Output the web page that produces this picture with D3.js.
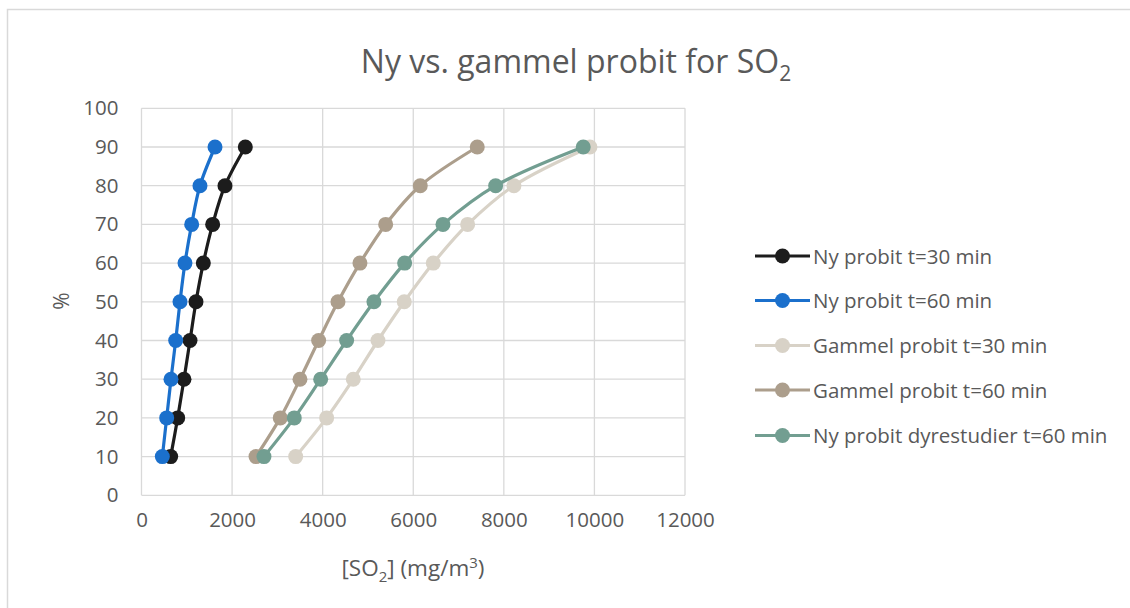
<!DOCTYPE html>
<html>
<head>
<meta charset="utf-8">
<script src="https://cdn.jsdelivr.net/npm/d3@7"></script>
<style>
  html, body { margin: 0; padding: 0; background: #fff; }
  svg { display: block; font-family: "Open Sans", "Noto Sans", sans-serif; }
</style>
</head>
<body>
<svg id="chart" width="1130" height="608"></svg>
<script>
const percent = [10, 20, 30, 40, 50, 60, 70, 80, 90];
const nyProbit30 = [644, 799, 938, 1071, 1203, 1365, 1571, 1843, 2292];
const nyProbit60 = [460, 556, 651, 755, 850, 960, 1108, 1291, 1623];
const gammelProbit30 = [3404, 4088, 4676, 5221, 5801, 6442, 7201, 8223, 9901];
const gammelProbit60 = [2528, 3064, 3499, 3911, 4338, 4823, 5391, 6155, 7413];
const nyProbitDyr60 = [2704, 3373, 3956, 4529, 5132, 5810, 6656, 7819, 9753];
const seriesNames = ["Ny probit t=30 min", "Ny probit t=60 min", "Gammel probit t=30 min", "Gammel probit t=60 min", "Ny probit dyrestudier t=60 min"];
const seriesColors = ["#1c1c1c", "#1b70cc", "#d8d2c7", "#ac9e8c", "#729e91"];
const xTicks = [0, 2000, 4000, 6000, 8000, 10000, 12000];
const yTicks = [0, 10, 20, 30, 40, 50, 60, 70, 80, 90, 100];

const seriesValues = [nyProbit30, nyProbit60, gammelProbit30, gammelProbit60, nyProbitDyr60];
const series = seriesNames.map((name, i) => ({
  name, color: seriesColors[i],
  points: seriesValues[i].map((v, j) => ({ x: v, y: percent[j] }))
}));

const svg = d3.select("#chart");
const textColor = "#595959";
const gridColor = "#d9d9d9";

// chart border
svg.append("rect").attr("x", 7.5).attr("y", 9.5).attr("width", 1200).attr("height", 700)
  .attr("fill", "none").attr("stroke", gridColor).attr("stroke-width", 1.5);

const x = d3.scaleLinear().domain([0, 12000]).range([141.5, 685]);
const y = d3.scaleLinear().domain([0, 100]).range([495.3, 108.3]);

// gridlines
const g = svg.append("g");
g.selectAll("line.h").data(yTicks).join("line")
  .attr("x1", x(0)).attr("x2", x(12000))
  .attr("y1", d => y(d)).attr("y2", d => y(d))
  .attr("stroke", gridColor).attr("stroke-width", 1.3);
g.selectAll("line.v").data(xTicks).join("line")
  .attr("y1", y(0)).attr("y2", y(100))
  .attr("x1", d => x(d)).attr("x2", d => x(d))
  .attr("stroke", gridColor).attr("stroke-width", 1.3);

// axes labels via d3 axes
const xAxis = d3.axisBottom(x).tickValues(xTicks).tickSize(0).tickPadding(17).tickFormat(d3.format("d"));
const xg = svg.append("g").attr("transform", `translate(0,${y(0)})`).call(xAxis);
xg.select(".domain").remove();
xg.selectAll("text").attr("fill", textColor).style("font-size", "20.5px").style("font-family", '"Open Sans", sans-serif');

const yAxis = d3.axisLeft(y).tickValues(yTicks).tickSize(0).tickPadding(23);
const yg = svg.append("g").attr("transform", `translate(${x(0)},0)`).call(yAxis);
yg.select(".domain").remove();
yg.selectAll("text").attr("fill", textColor).style("font-size", "20.5px").style("font-family", '"Open Sans", sans-serif');

// title
const title = svg.append("text").attr("x", 576).attr("y", 73).attr("text-anchor", "middle")
  .attr("fill", textColor).style("font-size", "32px");
title.append("tspan").text("Ny vs. gammel probit for SO");
title.append("tspan").text("2").attr("dy", 8).style("font-size", "21px");

// axis titles
const xt = svg.append("text").attr("x", 413).attr("y", 576).attr("text-anchor", "middle")
  .attr("fill", textColor).style("font-size", "22.5px");
xt.append("tspan").text("[SO");
xt.append("tspan").text("2").attr("dy", 6).style("font-size", "15px");
xt.append("tspan").text("] (mg/m").attr("dy", -6);
xt.append("tspan").text("3").attr("dy", -8).style("font-size", "15px");
xt.append("tspan").text(")").attr("dy", 8);

svg.append("text").attr("transform", "translate(69,301) rotate(-90)").attr("text-anchor", "middle")
  .attr("fill", textColor).style("font-size", "21px").text("%");

// series lines
const line = d3.line().x(d => x(d.x)).y(d => y(d.y)).curve(d3.curveCatmullRom.alpha(0.5));
const sg = svg.append("g");
series.forEach(s => {
  sg.append("path").datum(s.points).attr("d", line)
    .attr("fill", "none").attr("stroke", s.color).attr("stroke-width", 3.2)
    .attr("stroke-linejoin", "round").attr("stroke-linecap", "round");
  sg.selectAll(null).data(s.points).join("circle")
    .attr("cx", d => x(d.x)).attr("cy", d => y(d.y)).attr("r", 7.5)
    .attr("fill", s.color);
});

// legend
const legendY = [256, 300.5, 345.5, 390, 435.5];
const lg = svg.append("g");
series.forEach((s, i) => {
  const ly = legendY[i];
  lg.append("line").attr("x1", 755).attr("x2", 810).attr("y1", ly).attr("y2", ly)
    .attr("stroke", s.color).attr("stroke-width", 3.2);
  lg.append("circle").attr("cx", 782.5).attr("cy", ly).attr("r", 7.5).attr("fill", s.color);
  lg.append("text").attr("x", 813).attr("y", ly + 7.5).attr("fill", textColor)
    .style("font-size", "20.5px").text(s.name);
});
</script>
</body>
</html>
